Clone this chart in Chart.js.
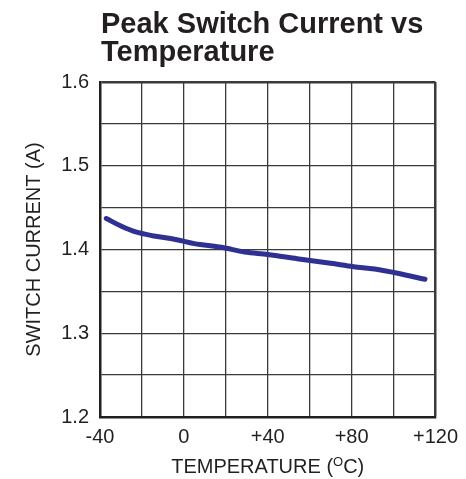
<!DOCTYPE html>
<html>
<head>
<meta charset="utf-8">
<script src="https://cdn.jsdelivr.net/npm/chart.js@4.4.0/dist/chart.umd.min.js"></script>
<style>
  html, body { margin: 0; padding: 0; background: #fff; }
  #wrap { width: 466px; height: 479px; }
</style>
</head>
<body>
<div id="wrap"><canvas id="myChart" width="466" height="479"></canvas></div>
<script>
// values
const temps = [-37, -30, -23, -15, -4, 5, 18, 29, 40, 54, 70, 81, 91, 102, 115];
const currents = [1.437, 1.428, 1.421, 1.4165, 1.412, 1.407, 1.4026, 1.397, 1.394, 1.389, 1.3835, 1.3795, 1.3767, 1.3716, 1.3644];

const titleLines = ["Peak Switch Current vs", "Temperature"];
const yTitle = "SWITCH CURRENT (A)";
const xMin = -40, xMax = 120, yMin = 1.2, yMax = 1.6;

const FONT = "'Liberation Sans', Arial, Helvetica, sans-serif";

// title + axis titles (the x one has a superscript O)
const textPlugin = {
  id: "texts",
  afterDraw(chart) {
    const ctx = chart.ctx;
    const area = chart.chartArea;
    ctx.save();
    ctx.fillStyle = "#231f20";
    ctx.textBaseline = "alphabetic";
    ctx.textAlign = "left";
    ctx.font = "bold 29px " + FONT;
    ctx.fillText(titleLines[0], area.left + 1, 33);
    ctx.fillText(titleLines[1], area.left + 1, 61);

    // y title
    ctx.font = "20px " + FONT;
    ctx.save();
    ctx.translate(40, (area.top + area.bottom) / 2);
    ctx.rotate(-Math.PI / 2);
    ctx.textAlign = "center";
    ctx.fillText(yTitle, 0, 0);
    ctx.restore();

    // x title: TEMPERATURE (°C) with small raised O
    const a = "TEMPERATURE (", b = "O", c = "C)";
    ctx.font = "20px " + FONT;
    const wa = ctx.measureText(a).width;
    const wc = ctx.measureText(c).width;
    ctx.font = "13px " + FONT;
    const wb = ctx.measureText(b).width;
    const total = wa + wb + wc;
    let x = (area.left + area.right) / 2 - total / 2;
    const base = 473;
    ctx.font = "20px " + FONT;
    ctx.fillText(a, x, base);
    x += wa;
    ctx.font = "13px " + FONT;
    ctx.fillText(b, x, base - 7);
    x += wb;
    ctx.font = "20px " + FONT;
    ctx.fillText(c, x, base);
    ctx.restore();
  }
};

const ctx = document.getElementById("myChart").getContext("2d");
const myChart = new Chart(ctx, {
  type: "line",
  data: {
    datasets: [
      {
        data: temps.map((t, i) => ({ x: t, y: currents[i] })),
        borderColor: "#2e3192",
        borderWidth: 5,
        borderCapStyle: "round",
        borderJoinStyle: "round",
        pointRadius: 0,
        tension: 0.35,
        fill: false,
      },
    ],
  },
  options: {
    responsive: false,
    animation: false,
    layout: { padding: { top: 82, right: 30, left: 0, bottom: 0 } },
    plugins: {
      legend: { display: false },
      tooltip: { enabled: false },
    },
    scales: {
      x: {
        type: "linear",
        min: xMin,
        max: xMax,
        afterFit: (s) => { s.height = 62; },
        border: { color: "#231f20", width: 2.5 },
        grid: {
          drawTicks: false,
          color: "#3a3a3a",
          lineWidth: (c) => (c.tick && c.tick.value === xMax ? 2.5 : 1.3),
        },
        ticks: {
          stepSize: 20,
          padding: 8,
          color: "#231f20",
          font: { family: FONT, size: 20 },
          maxRotation: 0,
          autoSkip: false,
          callback: function (value) {
            if (value % 40 !== 0) return "";
            return value > 0 ? "+" + value : String(value);
          },
        },
      },
      y: {
        min: yMin,
        max: yMax,
        afterFit: (s) => { s.width = 100; },
        border: { color: "#231f20", width: 2.5 },
        grid: {
          drawTicks: false,
          color: "#3a3a3a",
          lineWidth: (c) => (c.tick && Math.abs(c.tick.value - yMax) < 1e-6 ? 2.5 : 1.3),
        },
        ticks: {
          stepSize: 0.05,
          padding: 11,
          color: "#231f20",
          font: { family: FONT, size: 20 },
          autoSkip: false,
          callback: function (value) {
            const r = Math.round(value * 100);
            if (r % 10 !== 0) return "";
            return (r / 100).toFixed(1);
          },
        },
      },
    },
  },
  plugins: [textPlugin],
});
</script>
</body>
</html>
